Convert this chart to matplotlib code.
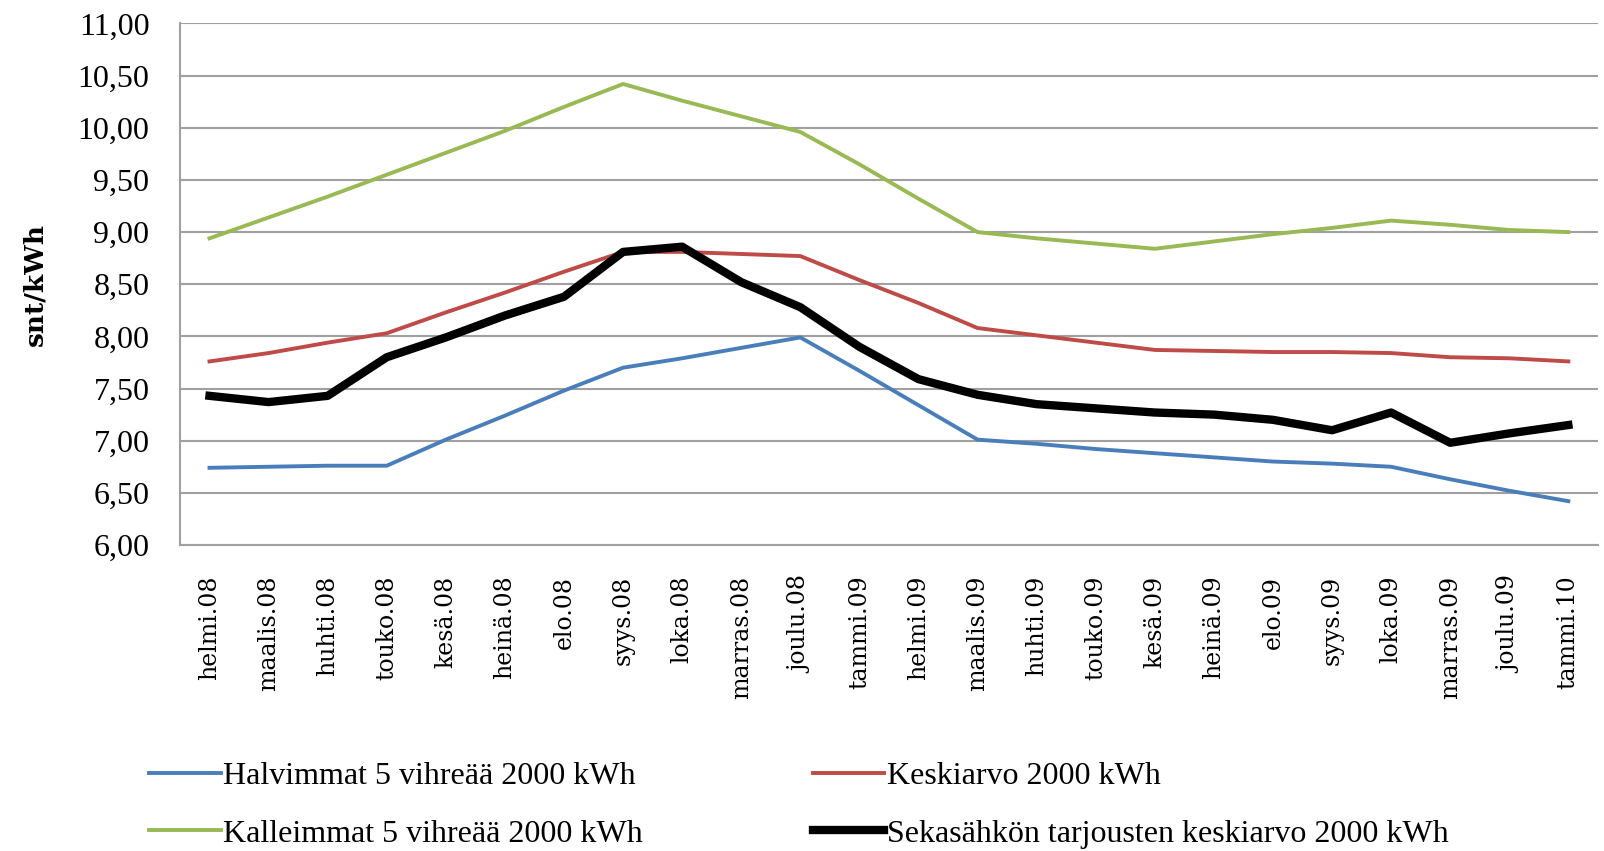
import matplotlib.pyplot as plt
from matplotlib.ticker import FuncFormatter

plt.rcParams['font.family'] = ['Liberation Serif', 'DejaVu Serif']

months = ['helmi.08', 'maalis.08', 'huhti.08', 'touko.08', 'kesä.08', 'heinä.08',
          'elo.08', 'syys.08', 'loka.08', 'marras.08', 'joulu.08', 'tammi.09',
          'helmi.09', 'maalis.09', 'huhti.09', 'touko.09', 'kesä.09', 'heinä.09',
          'elo.09', 'syys.09', 'loka.09', 'marras.09', 'joulu.09', 'tammi.10']

halvimmat = [6.74, 6.75, 6.76, 6.76, 7.01, 7.24, 7.48, 7.70, 7.79, 7.89, 7.99, 7.67,
             7.34, 7.01, 6.97, 6.92, 6.88, 6.84, 6.80, 6.78, 6.75, 6.63, 6.52, 6.42]
keskiarvo = [7.76, 7.84, 7.94, 8.03, 8.23, 8.42, 8.62, 8.81, 8.81, 8.79, 8.77, 8.54,
             8.32, 8.08, 8.01, 7.94, 7.87, 7.86, 7.85, 7.85, 7.84, 7.80, 7.79, 7.76]
kalleimmat = [8.94, 9.14, 9.34, 9.55, 9.76, 9.97, 10.20, 10.42, 10.26, 10.11, 9.96, 9.65,
              9.32, 9.00, 8.94, 8.89, 8.84, 8.91, 8.98, 9.04, 9.11, 9.07, 9.02, 9.00]
sekasahko = [7.43, 7.37, 7.43, 7.80, 7.99, 8.20, 8.38, 8.81, 8.86, 8.52, 8.28, 7.90,
             7.59, 7.44, 7.35, 7.31, 7.27, 7.25, 7.20, 7.10, 7.27, 6.98, 7.07, 7.15]

fig = plt.figure(figsize=(16.04, 8.51), dpi=100)
ax = fig.add_axes([0.1122, 0.3596, 0.884, 0.6128])

x = range(len(months))
l1, = ax.plot(x, halvimmat, color='#4A7EBB', lw=2.8, label='Halvimmat 5 vihreää 2000 kWh')
l2, = ax.plot(x, keskiarvo, color='#BE4B48', lw=2.8, label='Keskiarvo 2000 kWh')
l3, = ax.plot(x, kalleimmat, color='#98B954', lw=2.8, label='Kalleimmat 5 vihreää 2000 kWh')
l4, = ax.plot(x, sekasahko, color='black', lw=6, label='Sekasähkön tarjousten keskiarvo 2000 kWh')

ax.set_xlim(-0.5, len(months) - 0.5)
ax.set_ylim(6, 11)
ax.set_yticks([6 + 0.5 * i for i in range(11)])
ax.yaxis.set_major_formatter(FuncFormatter(lambda v, p: f'{v:.2f}'.replace('.', ',')))
ax.set_xticks(list(x))
ax.set_xticklabels(months, rotation=90, fontsize=17, family=['DejaVu Serif'])
ax.tick_params(axis='y', labelsize=23, length=0, pad=22)
ax.tick_params(axis='x', length=0, pad=22)

ax.grid(axis='y', color='#a0a0a0', lw=1.5)
ax.set_axisbelow(True)
for s in ['top', 'right']:
    ax.spines[s].set_visible(False)
ax.spines['left'].set_color('#a0a0a0')
ax.spines['bottom'].set_color('#a0a0a0')
ax.spines['left'].set_linewidth(1.5)
ax.spines['bottom'].set_linewidth(1.5)

ax.set_ylabel('snt/kWh', fontsize=19, fontweight='bold', family=['DejaVu Serif'], labelpad=22)

fig.legend(handles=[l1, l3, l2, l4], loc='lower left', bbox_to_anchor=(0.075, -0.031),
           ncol=2, frameon=False, fontsize=23, handlelength=2.25, handletextpad=0.08,
           columnspacing=5.3, labelspacing=0.88)

fig.savefig('out.png', dpi=100)
